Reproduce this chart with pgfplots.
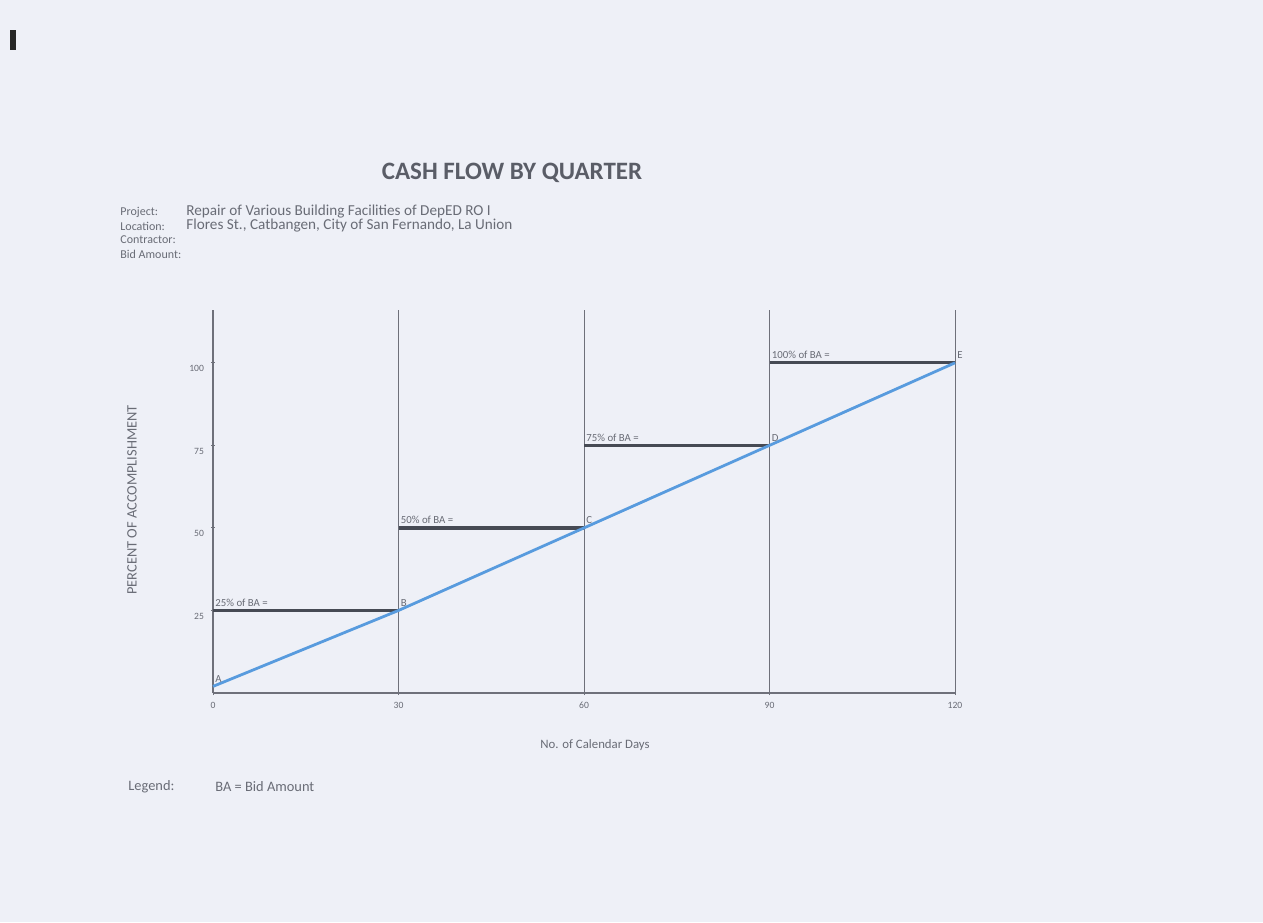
\documentclass[border=0pt]{standalone}
\usepackage{pgfplots}
\pgfplotsset{compat=1.18}
\usepackage{fontspec}
\setmainfont{Carlito}
\definecolor{paper}{RGB}{238,240,247}
\definecolor{txt}{RGB}{105,108,118}
\definecolor{ttl}{RGB}{90,93,103}
\definecolor{gridc}{RGB}{110,112,122}
\definecolor{barc}{RGB}{70,74,84}
\definecolor{bluel}{RGB}{88,155,222}
\begin{document}
\begin{tikzpicture}
\fill[paper] (0,0) rectangle (631.5pt,461pt);
\fill[black!85] (5pt,436pt) rectangle (8pt,446pt);
% title and header
\node[ttl,font=\fontsize{12.5}{14}\selectfont\bfseries] at (256pt,374.5pt) {CASH FLOW BY QUARTER};
\begin{scope}[every node/.style={anchor=west,txt,font=\fontsize{6}{7}\selectfont,inner sep=0pt}]
\node at (60pt,355pt) {Project:};
\node at (60pt,348pt) {Location:};
\node at (60pt,341pt) {Contractor:};
\node at (60pt,334pt) {Bid Amount:};
\end{scope}
\begin{scope}[every node/.style={anchor=west,txt,font=\fontsize{7.6}{8}\selectfont,inner sep=0pt}]
\node at (93pt,355pt) {Repair of Various Building Facilities of DepED RO I};
\node at (93pt,348pt) {Flores St., Catbangen, City of San Fernando, La Union};
\end{scope}
\begin{scope}[every node/.style={anchor=west,txt,font=\fontsize{7.2}{8}\selectfont,inner sep=0pt}]
\node at (64pt,67.5pt) {Legend:};
\node at (107.5pt,67.5pt) {BA = Bid Amount};
\end{scope}
\node[txt,rotate=90,font=\fontsize{7.2}{8}\selectfont] at (66pt,211pt) {PERCENT OF ACCOMPLISHMENT};
\node[txt,font=\fontsize{6.4}{7}\selectfont] at (297.5pt,88.5pt) {No. of Calendar Days};
\begin{axis}[
  at={(106.5pt,114.5pt)}, anchor=south west,
  scale only axis, width=371pt, height=191.5pt,
  xmin=0, xmax=120, ymin=0, ymax=116,
  axis x line=bottom, axis y line=left,
  axis line style={-, gridc, line width=0.6pt},
  xtick={0,30,60,90,120}, ytick={25,50,75,100},
  xmajorgrids, grid style={gridc, line width=0.5pt},
  tick style={gridc, line width=0.5pt}, major tick length=2pt,
  tick label style={txt, font=\fontsize{4.8}{5}\selectfont},
  yticklabel style={yshift=-3pt},
  /pgf/number format/assume math mode=true,
  clip=false,
  unbounded coords=jump,
]
\addplot[barc, line width=1.6pt] coordinates {
 (0,25) (30,25) (30,nan)
 (30,50) (60,50) (60,nan)
 (60,75) (90,75) (90,nan)
 (90,100) (120,100)
};
\addplot[bluel, line width=1.4pt] coordinates {
 (0,2) (30,25) (60,50) (90,75) (120,100)
};
\begin{scope}[every node/.style={anchor=south west,txt,font=\fontsize{5.4}{6}\selectfont,inner sep=1pt}]
\node at (axis cs:0,25.5) {25\% of BA =};
\node at (axis cs:30,50.5) {50\% of BA =};
\node at (axis cs:60,75.5) {75\% of BA =};
\node at (axis cs:90,100.5) {100\% of BA =};
\node at (axis cs:0,2.5) {A};
\node at (axis cs:30,25.5) {B};
\node at (axis cs:60,50.5) {C};
\node at (axis cs:90,75.5) {D};
\node at (axis cs:120,100.5) {E};
\end{scope}
\end{axis}
\end{tikzpicture}
\end{document}
